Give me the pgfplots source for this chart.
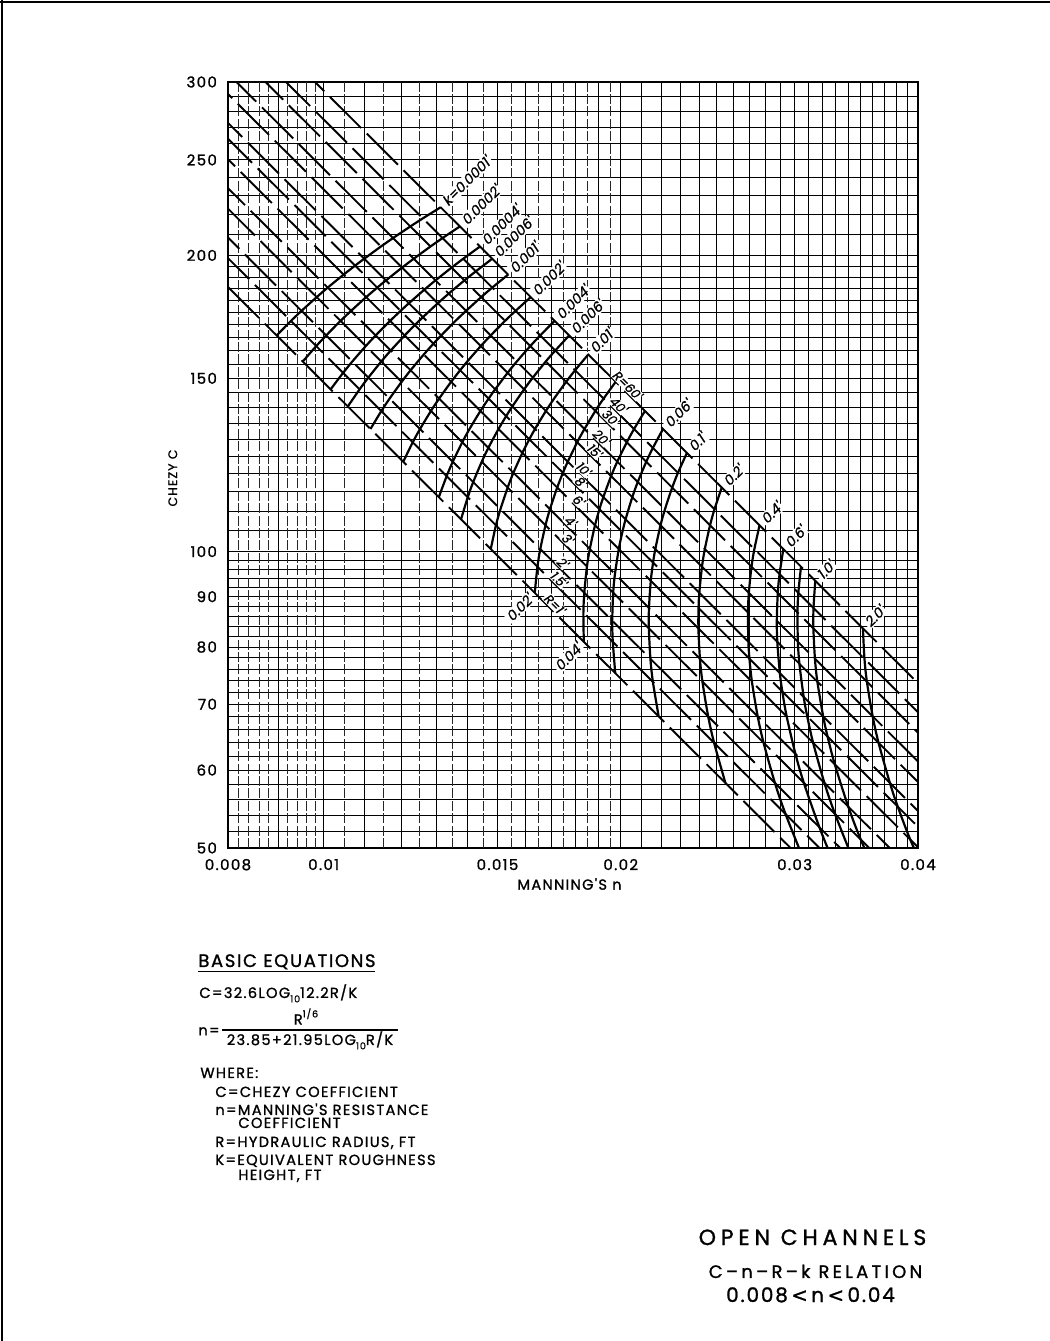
\documentclass[border=0pt]{standalone}
\usepackage{fontspec}
\setmainfont{Poppins}[FakeBold=1]
\newfontfamily\lett[LetterSpace=9,FakeBold=1.2]{Poppins}
\newfontfamily\lettt[LetterSpace=22,FakeBold=1.2]{Poppins}
\newfontfamily\lettw[LetterSpace=18,FakeBold=1.2]{Poppins}
\newfontfamily\slfont[FakeSlant=0.2,FakeBold=1]{Poppins}
\newfontfamily\dv[FakeBold=1]{DejaVu Sans}
\usepackage{pgfplots}
\pgfplotsset{compat=1.18}
\newcommand\sub[1]{\raisebox{-0.55ex}{\fontsize{4.8}{5}\selectfont #1}}
\tikzset{
  rline/.style={black, line width=0.95pt, dash pattern=on 22pt off 4pt},
  kline/.style={black, line width=1.1pt, smooth, tension=0.5},
  klab/.style={font=\fontsize{7}{8}\slfont, fill=white, inner sep=0.7pt, text height=5pt, text depth=0pt, rotate=45},
  rlab/.style={font=\fontsize{6.3}{7}\slfont, fill=white, inner sep=0.4pt, text height=4.5pt, text depth=0pt, rotate=-45, anchor=south},
}
\begin{document}
\begin{tikzpicture}
\path[use as bounding box] (0pt,0pt) rectangle (525pt,670.5pt);
\draw[line width=1.2pt] (0pt,669.6pt) -- (525pt,669.6pt);
\draw[line width=1.2pt] (0.9pt,0pt) -- (0.9pt,670.5pt);
\begin{axis}[
  at={(114pt,246.5pt)}, anchor=south west,
  width=345pt, height=383pt, scale only axis,
  xmode=log, ymode=log,
  xmin=0.008, xmax=0.04, ymin=50, ymax=300,
  xtick={0.008,0.01,0.015,0.02,0.03,0.04},
  xticklabels={0.008,0.01,0.015,0.02,0.03,0.04},
  ytick={50,60,70,80,90,100,150,200,250,300},
  yticklabels={50,60,70,80,90,100,150,200,250,300},
  minor xtick={0.009,0.011,0.012,0.013,0.014,0.016,0.017,0.018,0.019,0.021,0.022,0.023,0.024,0.025,0.026,0.027,0.028,0.029,0.031,0.032,0.033,0.034,0.035,0.036,0.037,0.038,0.039},
  minor ytick={52,54,56,58,62,64,66,68,72,74,76,78,82,84,86,88,92,94,96,98,105,110,115,120,125,130,135,140,145,155,160,165,170,175,180,185,190,195,210,220,230,240,260,270,280,290},
  extra x ticks={0.0082,0.0084,0.0086,0.0088,0.0092,0.0094,0.0096,0.0098,0.0105,0.0115,0.0125,0.0135,0.0145,0.0155,0.0165,0.0175,0.0185,0.0195},
  extra x tick labels={},
  extra x tick style={grid=major, major grid style={black!85, line width=0.4pt, dash pattern=on 5pt off 1.2pt}, xticklabel={}},
  grid=both,
  major grid style={black, line width=0.45pt},
  minor grid style={black, line width=0.4pt},
  major tick length=0pt, minor tick length=0pt,
  axis line style={line width=1.1pt},
  tick label style={font=\fontsize{7.5}{9}\lett},
  xticklabel style={yshift=-2pt},
  yticklabel style={xshift=-2pt},
  /pgf/number format/assume math mode=true,
  xlabel={MANNING'S n}, ylabel={CHEZY C},
  xlabel style={at={(axis description cs:0.495,-0.047)}, anchor=center, font=\fontsize{7.3}{9}\lett},
  ylabel style={at={(axis description cs:-0.08,0.483)}, anchor=center, font=\fontsize{6.2}{8}\lett},
]
% constant R lines (R = 1 ... 60)
\addplot[rline, dash phase=0pt]  coordinates {(0.008,185.75) (0.04,37.15)};
\addplot[rline, dash phase=7pt]  coordinates {(0.008,198.74) (0.04,39.75)};
\addplot[rline, dash phase=14pt] coordinates {(0.008,208.50) (0.04,41.70)};
\addplot[rline, dash phase=3pt]  coordinates {(0.008,223.08) (0.04,44.62)};
\addplot[rline, dash phase=10pt] coordinates {(0.008,234.03) (0.04,46.81)};
\addplot[rline, dash phase=17pt] coordinates {(0.008,250.39) (0.04,50.08)};
\addplot[rline, dash phase=5pt]  coordinates {(0.008,262.69) (0.04,52.54)};
\addplot[rline, dash phase=12pt] coordinates {(0.008,272.65) (0.04,54.53)};
\addplot[rline, dash phase=19pt] coordinates {(0.008,291.70) (0.04,58.34)};
\addplot[rline, dash phase=2pt]  coordinates {(0.008,306.04) (0.04,61.21)};
\addplot[rline, dash phase=9pt]  coordinates {(0.008,327.43) (0.04,65.49)};
\addplot[rline, dash phase=16pt] coordinates {(0.008,343.51) (0.04,68.70)};
\addplot[rline, dash phase=6pt]  coordinates {(0.008,367.53) (0.04,73.51)};
% constant k curves
\addplot[kline] coordinates {(0.008962,165.82)(0.009267,171.56)(0.009497,175.63)(0.009840,181.37)(0.010095,185.45)(0.010477,191.19)(0.010763,195.26)(0.010993,198.42)(0.011430,204.16)(0.011758,208.23)(0.012242,213.97)(0.012603,218.05)(0.013138,223.79)};
\addplot[kline] coordinates {(0.009525,156.01)(0.009829,161.75)(0.010059,165.82)(0.010402,171.56)(0.010660,175.63)(0.011044,181.37)(0.011332,185.45)(0.011565,188.61)(0.012007,194.35)(0.012339,198.42)(0.012830,204.16)(0.013197,208.23)(0.013741,213.97)};
\addplot[kline] coordinates {(0.010165,146.19)(0.010465,151.93)(0.010692,156.01)(0.011033,161.75)(0.011290,165.82)(0.011676,171.56)(0.011966,175.63)(0.012200,178.79)(0.012646,184.53)(0.012981,188.61)(0.013478,194.35)(0.013850,198.42)(0.014402,204.16)};
\addplot[kline] coordinates {(0.010580,140.45)(0.010876,146.19)(0.011100,150.27)(0.011439,156.01)(0.011695,160.08)(0.012080,165.82)(0.012370,169.89)(0.012604,173.05)(0.013052,178.79)(0.013388,182.87)(0.013888,188.61)(0.014262,192.68)(0.014818,198.42)};
\addplot[kline] coordinates {(0.011154,133.22)(0.011441,138.96)(0.011662,143.03)(0.011996,148.77)(0.012249,152.85)(0.012631,158.59)(0.012920,162.66)(0.013154,165.82)(0.013602,171.56)(0.013940,175.63)(0.014442,181.37)(0.014818,185.45)(0.015378,191.19)};
\addplot[kline] coordinates {(0.012041,123.41)(0.012310,129.15)(0.012521,133.22)(0.012843,138.96)(0.013090,143.03)(0.013464,148.77)(0.013749,152.85)(0.013981,156.01)(0.014427,161.75)(0.014765,165.82)(0.015268,171.56)(0.015647,175.63)(0.016211,181.37)};
\addplot[kline] coordinates {(0.013082,113.59)(0.013324,119.33)(0.013516,123.41)(0.013818,129.15)(0.014053,133.22)(0.014415,138.96)(0.014693,143.03)(0.014920,146.19)(0.015360,151.93)(0.015693,156.01)(0.016194,161.75)(0.016573,165.82)(0.017138,171.56)};
\addplot[kline] coordinates {(0.013778,107.85)(0.013997,113.59)(0.014175,117.67)(0.014461,123.41)(0.014686,127.48)(0.015036,133.22)(0.015307,137.29)(0.015530,140.45)(0.015963,146.19)(0.016293,150.27)(0.016790,156.01)(0.017167,160.08)(0.017731,165.82)};
\addplot[kline] coordinates {(0.014768,100.62)(0.014948,106.36)(0.015105,110.43)(0.015362,116.17)(0.015569,120.25)(0.015899,125.99)(0.016158,130.06)(0.016373,133.22)(0.016793,138.96)(0.017117,143.03)(0.017607,148.77)(0.017979,152.85)(0.018540,158.59)};
\addplot[kline] coordinates {(0.016364,90.81)(0.016467,96.55)(0.016577,100.62)(0.016779,106.36)(0.016954,110.43)(0.017243,116.17)(0.017476,120.25)(0.017674,123.41)(0.018069,129.15)(0.018378,133.22)(0.018850,138.96)(0.019214,143.03)(0.019763,148.77)};
\addplot[kline] coordinates {(0.018348,80.99)(0.018332,86.73)(0.018368,90.81)(0.018484,96.55)(0.018607,100.62)(0.018833,106.36)(0.019030,110.43)(0.019203,113.59)(0.019556,119.33)(0.019839,123.41)(0.020282,129.15)(0.020628,133.22)(0.021159,138.96)};
\addplot[kline] coordinates {(0.019748,75.25)(0.019631,80.99)(0.019607,85.07)(0.019652,90.81)(0.019732,94.88)(0.019908,100.62)(0.020074,104.69)(0.020224,107.85)(0.020544,113.59)(0.020806,117.67)(0.021225,123.41)(0.021557,127.48)(0.022070,133.22)};
\addplot[kline] coordinates {(0.021847,68.02)(0.021555,73.76)(0.021431,77.83)(0.021354,83.57)(0.021360,87.65)(0.021449,93.39)(0.021563,97.46)(0.021678,100.62)(0.021941,106.36)(0.022171,110.43)(0.022548,116.17)(0.022853,120.25)(0.023337,125.99)};
\addplot[kline] coordinates {(0.025528,58.21)(0.024862,63.95)(0.024522,68.02)(0.024195,73.76)(0.024055,77.83)(0.023969,83.57)(0.023976,87.65)(0.024019,90.81)(0.024170,96.55)(0.024332,100.62)(0.024628,106.36)(0.024885,110.43)(0.025309,116.17)};
\addplot[kline] coordinates {(0.030709,48.39)(0.029372,54.13)(0.028655,58.21)(0.027906,63.95)(0.027524,68.02)(0.027157,73.76)(0.027001,77.83)(0.026932,80.99)(0.026906,86.73)(0.026961,90.81)(0.027130,96.55)(0.027312,100.62)(0.027644,106.36)};
\addplot[kline] coordinates {(0.034842,42.65)(0.032856,48.39)(0.031790,52.47)(0.030658,58.21)(0.030061,62.28)(0.029449,68.02)(0.029151,72.09)(0.028986,75.25)(0.028813,80.99)(0.028780,85.07)(0.028845,90.81)(0.028964,94.88)(0.029221,100.62)};
\addplot[kline] coordinates {(0.035873,44.32)(0.034470,48.39)(0.032969,54.13)(0.032163,58.21)(0.031323,63.95)(0.030895,68.02)(0.030644,71.18)(0.030338,76.92)(0.030230,80.99)(0.030202,86.73)(0.030262,90.81)(0.030453,96.55)};
\addplot[kline] coordinates {(0.036878,45.23)(0.035013,50.97)(0.034009,55.05)(0.032951,60.79)(0.032401,64.86)(0.032067,68.02)(0.031638,73.76)(0.031457,77.83)(0.031344,83.57)(0.031353,87.65)(0.031483,93.39)};
\addplot[kline] coordinates {(0.041393,45.23)(0.039300,50.97)(0.038174,55.05)(0.037471,58.21)(0.036491,63.95)(0.035994,68.02)(0.035512,73.76)(0.035309,77.83)(0.035182,83.57)};
% k labels
\node[klab, anchor=west, xshift=2pt] at (axis cs:0.013138,223.79) {k=0.0001'};
\node[klab, anchor=west, xshift=2pt] at (axis cs:0.013741,213.97) {0.0002'};
\node[klab, anchor=west, xshift=2pt] at (axis cs:0.014402,204.16) {0.0004'};
\node[klab, anchor=west, xshift=2pt] at (axis cs:0.014818,198.42) {0.0006'};
\node[klab, anchor=west, xshift=2pt] at (axis cs:0.015378,191.19) {0.001'};
\node[klab, anchor=west, xshift=2pt] at (axis cs:0.016211,181.37) {0.002'};
\node[klab, anchor=west, xshift=2pt] at (axis cs:0.017138,171.56) {0.004'};
\node[klab, anchor=west, xshift=2pt] at (axis cs:0.017731,165.82) {0.006'};
\node[klab, anchor=west, xshift=2pt] at (axis cs:0.018540,158.59) {0.01'};
\node[klab, anchor=east, xshift=-2pt] at (axis cs:0.016364,90.81) {0.02'};
\node[klab, anchor=east, xshift=-2pt] at (axis cs:0.018348,80.99) {0.04'};
\node[klab, anchor=west, xshift=2pt] at (axis cs:0.022070,133.22) {0.06'};
\node[klab, anchor=west, xshift=2pt] at (axis cs:0.023337,125.99) {0.1'};
\node[klab, anchor=west, xshift=2pt] at (axis cs:0.025309,116.17) {0.2'};
\node[klab, anchor=west, xshift=2pt] at (axis cs:0.027644,106.36) {0.4'};
\node[klab, anchor=west, xshift=2pt] at (axis cs:0.029221,100.62) {0.6'};
\node[klab, anchor=west, xshift=2pt] at (axis cs:0.031483,93.39) {1.0'};
\node[klab, anchor=west, xshift=2pt] at (axis cs:0.035182,83.57) {2.0'};
% R labels
\node[rlab] at (axis cs:0.02010,146.28) {R=60'};
\node[rlab] at (axis cs:0.01968,139.64) {40'};
\node[rlab] at (axis cs:0.01932,135.58) {30'};
\node[rlab] at (axis cs:0.01891,129.47) {20'};
\node[rlab] at (axis cs:0.01861,125.40) {15'};
\node[rlab] at (axis cs:0.01814,120.24) {10'};
\node[rlab] at (axis cs:0.01802,116.62) {8'};
\node[rlab] at (axis cs:0.01793,111.72) {6'};
\node[rlab] at (axis cs:0.01760,106.38) {4'};
\node[rlab] at (axis cs:0.01748,102.09) {3'};
\node[rlab] at (axis cs:0.01728,96.53) {2'};
\node[rlab] at (axis cs:0.01712,92.87) {1.5'};
\node[rlab] at (axis cs:0.01696,87.62) {R=1'};
\end{axis}
\begin{scope}[every node/.style={inner sep=0pt, font=\fontsize{7.3}{8}\lett}]
\node[anchor=base west, font=\fontsize{9}{11}\lett] at (99pt,187pt) {BASIC EQUATIONS};
\draw[line width=0.8pt] (99pt,184.8pt) -- (187.5pt,184.8pt);
\node[anchor=base west] at (99.5pt,171.5pt) {C=32.6LOG\sub{10}12.2R/K};
\node[anchor=base west] at (99pt,152.8pt) {n=};
\draw[line width=0.6pt] (111pt,155.5pt) -- (199pt,155.5pt);
\node[anchor=base] at (153pt,158.2pt) {R\raisebox{0.9ex}{\fontsize{4.8}{5}\selectfont 1/6}};
\node[anchor=base] at (155pt,148pt) {23.85+21.95LOG\sub{10}R/K};
\node[anchor=base west] at (100pt,131.5pt) {WHERE:};
\node[anchor=base west] at (107.5pt,122pt) {C=CHEZY COEFFICIENT};
\node[anchor=base west] at (107.5pt,113pt) {n=MANNING'S RESISTANCE};
\node[anchor=base west] at (119pt,106.5pt) {COEFFICIENT};
\node[anchor=base west] at (107.5pt,97pt) {R=HYDRAULIC RADIUS, FT};
\node[anchor=base west] at (107.5pt,88pt) {K=EQUIVALENT ROUGHNESS};
\node[anchor=base west] at (119pt,80.5pt) {HEIGHT, FT};
\node[anchor=base, font=\fontsize{11}{12}\lettt] at (406.25pt,48pt) {OPEN CHANNELS};
\node[anchor=base, font=\fontsize{9}{11}\lettw] at (407.75pt,31.5pt) {C–n–R–k RELATION};
\node[anchor=base, font=\fontsize{10}{12}\lett] at (405.25pt,19.5pt) {0.008{\dv\,<\,}n{\dv\,<\,}0.04};
\end{scope}
\end{tikzpicture}
\end{document}
